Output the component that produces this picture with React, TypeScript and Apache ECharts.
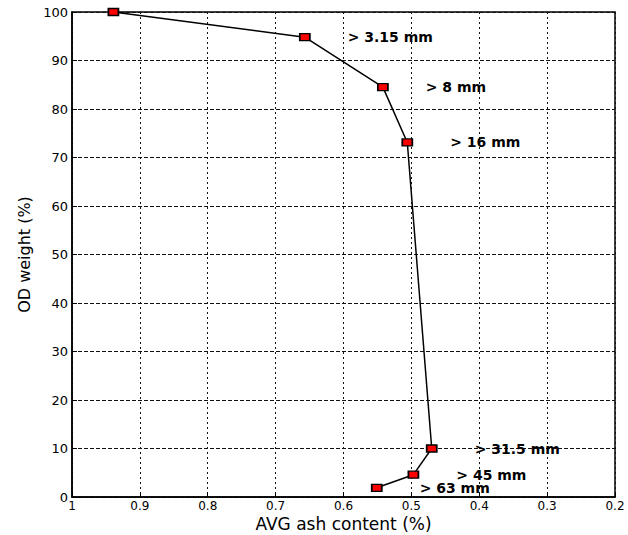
import React, { useEffect, useRef } from "react";
import * as echarts from "echarts";

const ashContent = [0.939, 0.657, 0.542, 0.506, 0.47, 0.497, 0.551];
const odWeight = [100, 94.8, 84.5, 73.1, 10, 4.6, 1.9];
const sizeLabels = ["", "> 3.15 mm", "> 8 mm", "> 16 mm", "> 31.5 mm", "> 45 mm", "> 63 mm"];

export default function App() {
  const ref = useRef<HTMLDivElement>(null);
  useEffect(() => {
    if (!ref.current) return;
    const chart = echarts.init(ref.current, undefined, { renderer: "svg" });
    const font = "DejaVu Sans";
    chart.setOption({
      animation: false,
      backgroundColor: "#ffffff",
      grid: {
        left: 72,
        top: 12,
        right: 13,
        bottom: 38,
        show: true,
        borderColor: "#000",
        borderWidth: 1.5,
        backgroundColor: "transparent",
        outerBoundsMode: "none",
        containLabel: false,
      },
      xAxis: {
        type: "value",
        inverse: true,
        min: 0.2,
        max: 1,
        interval: 0.1,
        name: "AVG ash content (%)",
        nameLocation: "middle",
        nameGap: 18,
        nameMoveOverlap: false,
        nameTextStyle: { fontFamily: font, fontSize: 17, lineHeight: 17, color: "#000" },
        axisLine: { show: true, onZero: false, lineStyle: { color: "#000", width: 1.5 } },
        axisTick: { show: true, inside: true, length: 5, lineStyle: { color: "#000" } },
        axisLabel: {
          fontFamily: font,
          fontSize: 12,
          lineHeight: 12,
          color: "#000",
          margin: 3,
          formatter: (v: number) => String(+v.toFixed(1)),
        },
        splitLine: { show: true, lineStyle: { color: "#111", type: [2, 3], width: 1 } },
      },
      yAxis: {
        type: "value",
        min: 0,
        max: 100,
        interval: 10,
        name: "OD weight (%)",
        nameLocation: "middle",
        nameGap: 40,
        nameTextStyle: { fontFamily: font, fontSize: 16, color: "#000" },
        axisLine: { show: true, onZero: false, lineStyle: { color: "#000", width: 1.5 } },
        axisTick: { show: true, inside: true, length: 5, lineStyle: { color: "#000" } },
        axisLabel: { fontFamily: font, fontSize: 13, color: "#000", margin: 4 },
        splitLine: { show: true, lineStyle: { color: "#111", type: [4, 2], width: 1 } },
      },
      series: [
        {
          type: "line",
          data: ashContent.map((x, i) => [x, odWeight[i]]),
          lineStyle: { color: "#000", width: 1.5 },
          symbol: "rect",
          symbolSize: [10, 7],
          itemStyle: { color: "#ff0000", borderColor: "#000", borderWidth: 1.5 },
          label: {
            show: true,
            position: "right",
            distance: 37,
            fontFamily: font,
            fontWeight: "bold",
            fontSize: 14,
            lineHeight: 13,
            color: "#000",
            formatter: (p: any) => sizeLabels[p.dataIndex],
          },
          z: 5,
        },
      ],
    });
    return () => chart.dispose();
  }, []);
  return (
    <div
      ref={ref}
      style={{ position: "fixed", left: 0, top: 0, width: 628, height: 535, background: "#fff" }}
    />
  );
}
